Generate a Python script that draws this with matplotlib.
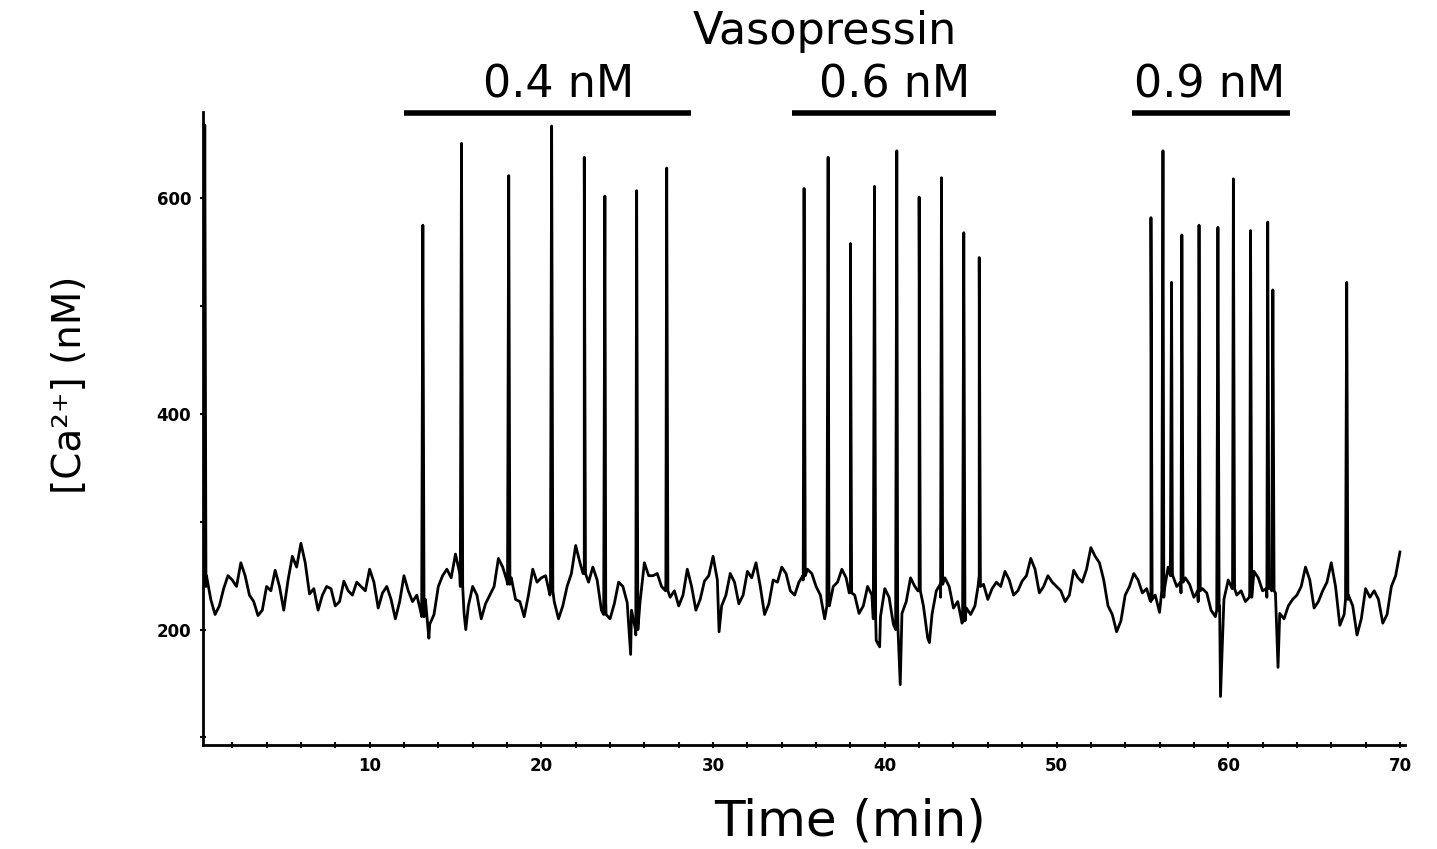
# [Ca2+] trace with vasopressin pulses
import numpy as np
import matplotlib.pyplot as plt

# baseline read every 0.5 min, from t = 0 to t = 70
base_values = [245, 250, 214, 238, 246, 262, 232, 213, 240, 255,
               218, 268, 280, 233, 218, 240, 222, 245, 232, 240,
               256, 220, 240, 210, 250, 226, 215, 205, 240, 256,
               270, 215, 240, 210, 232, 266, 245, 228, 212, 256,
               248, 232, 210, 240, 278, 252, 258, 218, 210, 244,
               225, 195, 262, 250, 240, 230, 222, 256, 218, 245,
               268, 222, 252, 224, 254, 262, 214, 246, 258, 236,
               244, 256, 240, 210, 240, 256, 235, 215, 240, 190,
               238, 205, 215, 248, 236, 192, 236, 248, 220, 206,
               214, 250, 228, 244, 254, 232, 245, 266, 234, 250,
               240, 226, 255, 244, 276, 262, 222, 198, 232, 252,
               234, 226, 216, 258, 240, 248, 230, 238, 218, 222,
               246, 232, 226, 254, 236, 240, 215, 222, 232, 258,
               220, 236, 262, 204, 232, 195, 238, 236, 206, 240,
               272]
# in-between readings, at t = 0.25, 0.75, ... 69.75
mid_values = [236, 228, 222, 250, 240, 250, 226, 218, 236, 240,
              246, 258, 262, 238, 232, 238, 226, 236, 244, 236,
              244, 234, 228, 226, 236, 232, 228, 214, 250, 248,
              252, 222, 232, 224, 240, 258, 248, 226, 232, 244,
              250, 226, 222, 252, 262, 244, 246, 226, 224, 240,
              218, 226, 250, 252, 244, 236, 232, 240, 228, 250,
              246, 232, 244, 232, 248, 240, 224, 244, 252, 232,
              246, 252, 232, 224, 244, 248, 232, 222, 232, 212,
              230, 218, 226, 240, 222, 214, 230, 240, 226, 220,
              222, 242, 238, 240, 246, 236, 250, 256, 240, 244,
              236, 232, 248, 256, 268, 246, 214, 208, 240, 246,
              238, 232, 230, 250, 234, 242, 226, 234, 212, 228,
              242, 236, 234, 248, 230, 234, 210, 228, 240, 246,
              226, 244, 240, 214, 222, 210, 230, 228, 214, 250]
base_step = 0.5

# spikes: time (min), peak (nM), foot (nM)
spike_times = [0.4, 13.1, 15.35, 18.1, 20.6, 22.5, 23.7, 25.55, 27.3,
               35.3, 36.7, 38.0, 39.4, 40.7, 42.0, 43.3, 44.6, 45.5,
               55.5, 56.2, 56.7, 57.3, 58.3, 59.4, 60.3, 61.3, 62.3, 62.6,
               66.9]
spike_peaks = [668, 575, 651, 621, 667, 638, 602, 607, 628,
               609, 638, 558, 611, 644, 601, 619, 568, 545,
               582, 644, 522, 566, 575, 573, 618, 570, 578, 515,
               522]
spike_feet = [240, 212, 240, 242, 236, 252, 214, 200, 236,
              250, 222, 234, 210, 200, 236, 242, 208, 240,
              228, 236, 250, 244, 236, 218, 238, 230, 238, 236,
              228]

# downward dips
dip_times = [13.45, 15.6, 25.2, 30.35, 39.7, 40.9, 42.6, 59.55, 62.9]
dip_values = [192, 200, 177, 198, 184, 149, 188, 138, 165]

# vasopressin application bars
dose_labels = ['0.4 nM', '0.6 nM', '0.9 nM']
dose_start = [12.0, 34.6, 54.4]
dose_end = [28.7, 46.5, 63.6]
dose_text_x = [21.0, 40.6, 58.9]

# build the trace
pts = [(i * base_step, v) for i, v in enumerate(base_values)]
pts += [(i * base_step + base_step / 2, v) for i, v in enumerate(mid_values)]
for t, pk, ft in zip(spike_times, spike_peaks, spike_feet):
    pts += [(t - 0.07, ft), (t, pk), (t + 0.07, ft)]
pts += list(zip(dip_times, dip_values))
pts.sort()
tt = [p[0] for p in pts]
vv = [p[1] for p in pts]

fig = plt.figure(figsize=(14.37, 8.49), dpi=100)
ax = fig.add_axes([0.1413, 0.1225, 0.8365, 0.7456])

ax.plot(tt, vv, color='black', lw=2.0)

ax.set_xlim(0.3, 70.3)
ax.set_ylim(93, 680)

for s in ['top', 'right']:
    ax.spines[s].set_visible(False)
for s in ['left', 'bottom']:
    ax.spines[s].set_linewidth(2)

ax.set_xticks(range(10, 71, 10))
ax.set_xticks(np.arange(2, 70, 2), minor=True)
ax.set_yticks([200, 400, 600])
ax.set_yticks([100, 300, 500], minor=True)
ax.tick_params(axis='both', which='both', direction='inout', length=5, width=1.5)
ax.tick_params(axis='x', labelsize=12, pad=6)
ax.tick_params(axis='y', labelsize=12, pad=6)
for lb in ax.get_xticklabels() + ax.get_yticklabels():
    lb.set_fontweight('bold')

ax.set_xlabel('Time (min)', fontsize=36, va='center')
ax.xaxis.set_label_coords(0.538, -0.1216)
ax.set_ylabel('[Ca²⁺] (nM)', fontsize=28, va='center')
ax.yaxis.set_label_coords(-0.111, 0.569)

tr = ax.get_xaxis_transform()
ax.text(36.5, 1.127, 'Vasopressin', transform=tr, ha='center', va='center', fontsize=32)
for lab, x0, x1, xc in zip(dose_labels, dose_start, dose_end, dose_text_x):
    ax.plot([x0, x1], [0.9984, 0.9984], transform=tr, color='black', lw=4, clip_on=False,
            solid_capstyle='butt')
    ax.text(xc, 1.042, lab, transform=tr, ha='center', va='center', fontsize=32)

fig.savefig('out.png', dpi=100)
